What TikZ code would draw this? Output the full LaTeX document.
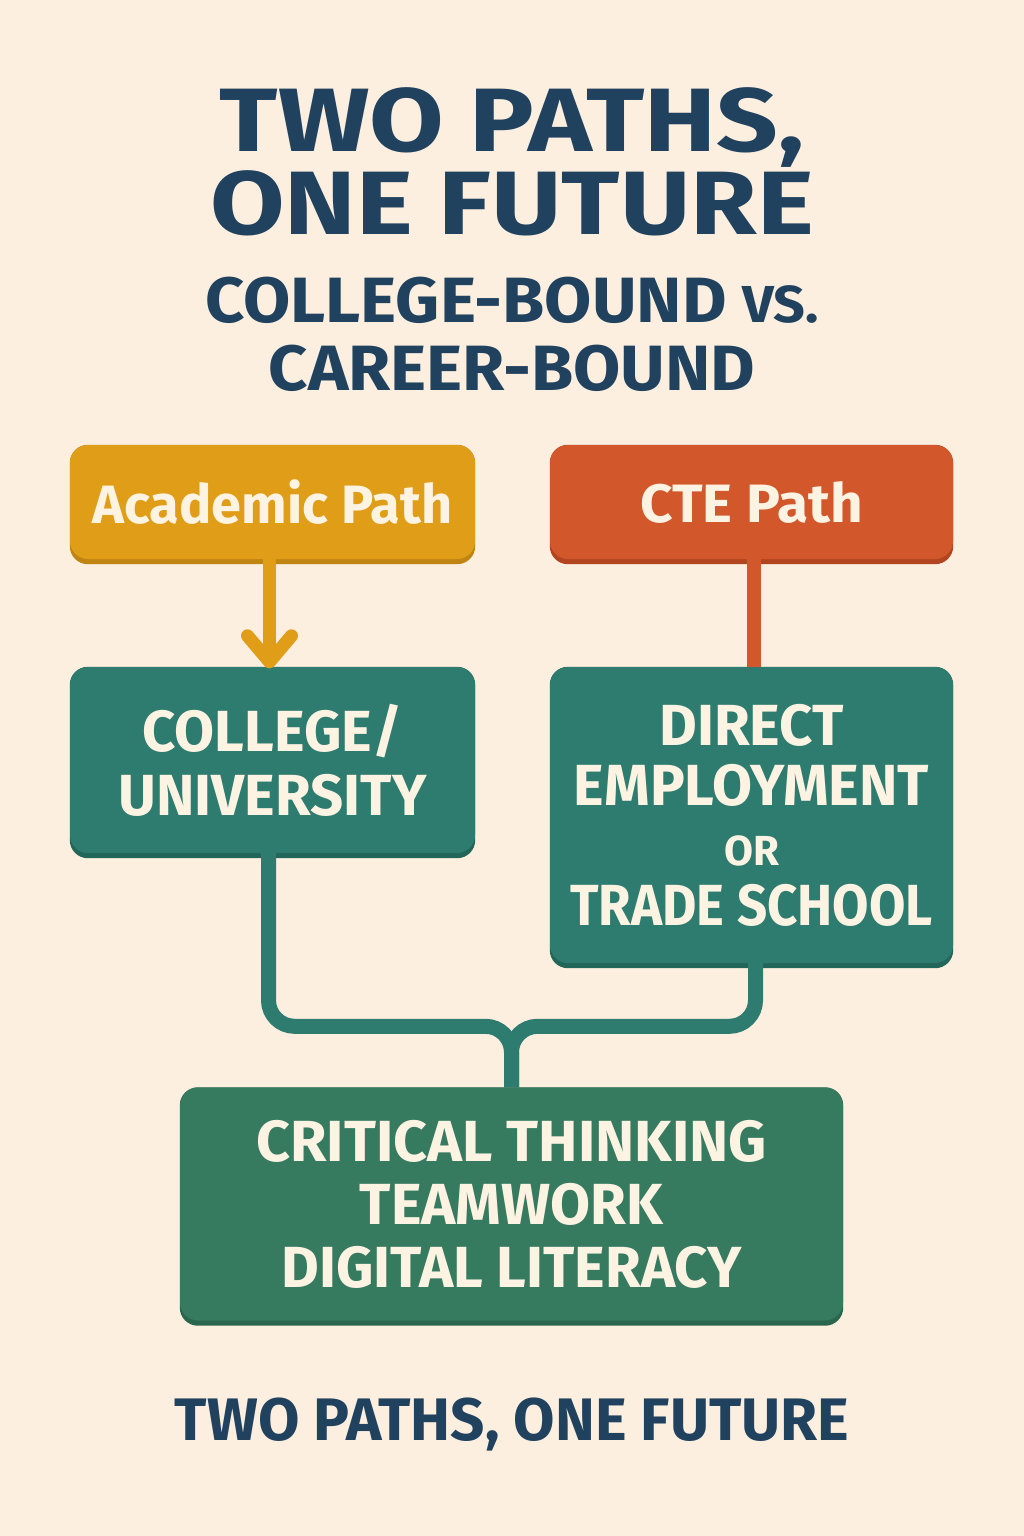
\documentclass[tikz,border=0pt]{standalone}
\usepackage{fontspec}
\setmainfont{Fira Sans}
\usetikzlibrary{backgrounds}
\definecolor{bg}{HTML}{FCEFDF}
\definecolor{navy}{HTML}{21425F}
\definecolor{gold}{HTML}{E09E18}
\definecolor{golddk}{HTML}{C08412}
\definecolor{rust}{HTML}{D2572B}
\definecolor{rustdk}{HTML}{B24520}
\definecolor{teal}{HTML}{2D7C6F}
\definecolor{tealdk}{HTML}{22665A}
\definecolor{green}{HTML}{367A60}
\definecolor{greendk}{HTML}{2A654E}
\definecolor{cream}{HTML}{FDF3E3}
\tikzset{
  box/.style={rounded corners=18pt, inner sep=0pt, text=cream, align=center, font=\bfseries},
  shadowbox/.style={rounded corners=18pt},
  titletext/.style={text=navy, font=\bfseries, align=center, inner sep=0pt},
  link/.style={line width=15pt},
}
\begin{document}
\begin{tikzpicture}[x=1pt,y=-1pt]
\useasboundingbox (0,0) rectangle (1024,1536);
\begin{scope}[on background layer]
\fill[bg] (0,0) rectangle (1024,1536);
\end{scope}

% titles
\node[titletext, font=\bfseries\fontsize{90}{83}\selectfont] (title) at (512,162) {\scalebox{1.2}[1]{TWO PATHS,}\\\scalebox{1.2}[1]{ONE FUTURE}};
\node[titletext, font=\bfseries\fontsize{64}{68}\selectfont] (sub) at (512,334) {\scalebox{1.07}[1]{COLLEGE-BOUND {\fontsize{52}{68}\selectfont VS.}}\\\scalebox{1.07}[1]{CAREER-BOUND}};

% boxes
\node[box, fill=gold, minimum width=405pt, minimum height=114pt, font=\bfseries\fontsize{54}{60}\selectfont] (acad) at (272.5,502) {Academic Path};
\node[box, fill=rust, minimum width=403pt, minimum height=114pt, font=\bfseries\fontsize{54}{60}\selectfont] (cte) at (751.5,502) {\scalebox{1.05}[1]{CTE Path}};
\node[box, fill=teal, minimum width=405pt, minimum height=186pt, font=\bfseries\fontsize{58}{64}\selectfont] (coll) at (272.5,760) {COLLEGE/\\UNIVERSITY};
\node[box, fill=teal, minimum width=403pt, minimum height=296pt, font=\bfseries\fontsize{58}{60}\selectfont] (direct) at (751.5,815) {DIRECT\\EMPLOYMENT\\{\fontsize{42}{56}\selectfont OR}\\\scalebox{0.91}[1]{TRADE SCHOOL}};
\node[box, fill=green, minimum width=663pt, minimum height=233pt, font=\bfseries\fontsize{58}{63}\selectfont] (skills) at (511.5,1204) {\scalebox{1.02}[1]{CRITICAL THINKING}\\TEAMWORK\\DIGITAL LITERACY};

\node[titletext, font=\bfseries\fontsize{60}{60}\selectfont] (foot) at (512,1424) {TWO PATHS, ONE FUTURE};

\begin{scope}[on background layer]
  \fill[golddk, shadowbox] (acad.north west) rectangle ([yshift=-5pt]acad.south east);
  \fill[rustdk, shadowbox] (cte.north west) rectangle ([yshift=-5pt]cte.south east);
  \fill[tealdk, shadowbox] (coll.north west) rectangle ([yshift=-5pt]coll.south east);
  \fill[tealdk, shadowbox] (direct.north west) rectangle ([yshift=-5pt]direct.south east);
  \fill[greendk, shadowbox] (skills.north west) rectangle ([yshift=-5pt]skills.south east);
  % connectors
  \draw[rust, line width=14pt] ([xshift=2pt]cte.south) -- ([xshift=2pt]direct.north);
  \draw[teal, link, rounded corners=26pt] ([xshift=-4pt]coll.south) |- ([yshift=61pt]skills.north) -- (skills.north);
  \draw[teal, link, rounded corners=26pt] ([xshift=4pt]direct.south) |- ([yshift=61pt]skills.north) -- (skills.north);
\end{scope}
\coordinate (tip) at ([xshift=-3pt,yshift=5pt]coll.north);
\draw[gold, line width=13pt] ([xshift=-3pt]acad.south) -- ([yshift=6pt]tip);
\draw[gold, line width=13pt, line cap=round, line join=round] ([xshift=-22pt,yshift=26pt]tip) -- (tip) -- ([xshift=22pt,yshift=26pt]tip);
\end{tikzpicture}
\end{document}
